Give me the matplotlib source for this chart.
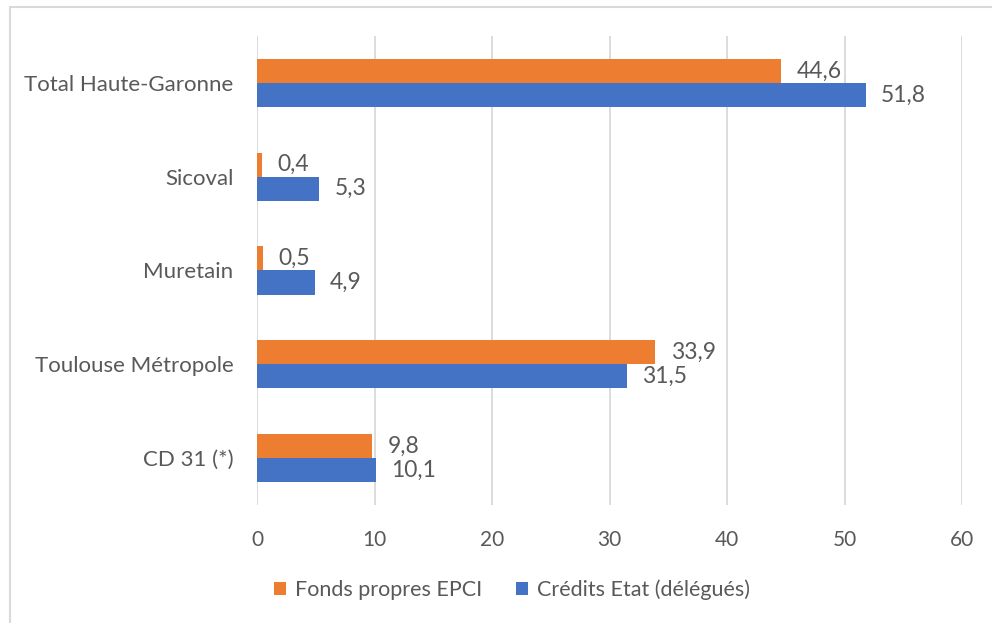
import matplotlib.pyplot as plt
import numpy as np
from matplotlib.patches import Rectangle

categories = ["CD 31 (*)", "Toulouse Métropole", "Muretain", "Sicoval", "Total Haute-Garonne"]
fonds_propres = [9.8, 33.9, 0.5, 0.4, 44.6]
credits_etat = [10.1, 31.5, 4.9, 5.3, 51.8]
series_names = ["Fonds propres EPCI", "Crédits Etat (délégués)"]
xticks = [0, 10, 20, 30, 40, 50, 60]

orange = "#ED7D31"
blue = "#4472C4"
grey_txt = "#595959"

plt.rcParams['font.family'] = ['Lato', 'DejaVu Sans']

fig = plt.figure(figsize=(9.92, 6.23), dpi=100)
ax = fig.add_axes([257 / 992, 1 - 505 / 623, 705 / 992, 469 / 623])

y = np.arange(len(categories))
h = 0.256
b1 = ax.barh(y + h / 2, fonds_propres, height=h, color=orange, label=series_names[0], zorder=3)
b2 = ax.barh(y - h / 2, credits_etat, height=h, color=blue, label=series_names[1], zorder=3)

fmt = lambda v: f"{v:.1f}".replace(".", ",")
for bars, vals in ((b1, fonds_propres), (b2, credits_etat)):
    for bar, v in zip(bars, vals):
        ax.annotate(fmt(v), (bar.get_width(), bar.get_y() + bar.get_height() / 2),
                    xytext=(11, 0), textcoords="offset points", va="center", ha="left",
                    fontsize=16.5, color=grey_txt)

ax.set_xlim(0, 60)
ax.set_ylim(-0.5, 4.5)
ax.set_xticks(xticks)
ax.set_yticks(y)
ax.set_yticklabels(categories, fontsize=16)
ax.tick_params(axis="both", length=0, labelcolor=grey_txt)
ax.tick_params(axis="x", pad=18, labelsize=15)
ax.tick_params(axis="y", pad=17)
ax.grid(axis="x", color="#d9d9d9", linewidth=1.3, zorder=0)
for s in ax.spines.values():
    s.set_visible(False)

fig.legend(handles=[b1, b2], labels=series_names, loc="center", ncol=2,
           bbox_to_anchor=(512 / 992, 1 - 590 / 623), frameon=False, fontsize=15.5,
           labelcolor=grey_txt, handlelength=0.55, handleheight=0.55, handletextpad=0.4,
           columnspacing=1.6)

# chart area border (cropped at right/bottom)
fig.patches.append(Rectangle((10 / 992, -0.1), 1.2, 1 - 7 / 623 + 0.1, transform=fig.transFigure,
                             fill=False, edgecolor="#d9d9d9", linewidth=1.5))

fig.savefig("out.png", dpi=100)
